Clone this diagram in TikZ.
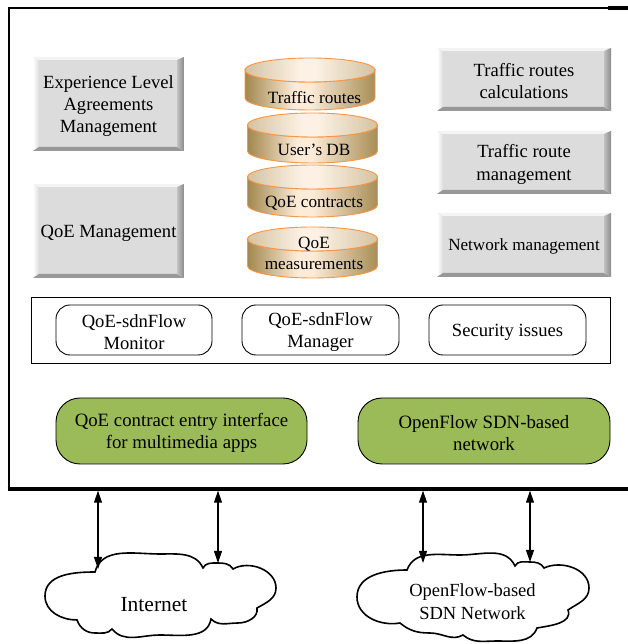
\documentclass[tikz,border=0pt]{standalone}
\usepackage{fontspec}
\setmainfont{Liberation Serif}
\usetikzlibrary{arrows.meta}

\definecolor{boxgray}{HTML}{DCDCDC}
\definecolor{bevlight}{HTML}{F4F4F4}
\definecolor{bevright}{HTML}{8A8A8A}
\definecolor{bevbottom}{HTML}{989898}
\definecolor{appgreen}{HTML}{9BBB59}
\definecolor{cylline}{HTML}{F79646}
\definecolor{cyldark}{HTML}{A2874E}
\definecolor{cyllight}{HTML}{FCEBD7}
\definecolor{cyldarkr}{HTML}{A88D55}
\definecolor{cyltopdark}{HTML}{D4C3A2}
\definecolor{cyltoplight}{HTML}{FCF1E4}

\pgfdeclarehorizontalshading{cylbody}{100bp}{color(0bp)=(cyldark); color(25bp)=(cyldark); color(44bp)=(cyllight); color(50bp)=(cyllight); color(75bp)=(cyldarkr); color(100bp)=(cyldarkr)}
\pgfdeclarehorizontalshading{cyltop}{100bp}{color(0bp)=(cyltopdark); color(25bp)=(cyltopdark); color(46bp)=(cyltoplight); color(52bp)=(cyltoplight); color(75bp)=(cyltopdark); color(100bp)=(cyltopdark)}

% tall struts that set a label a little lower inside its box
\newcommand{\boxstrut}{\rule{0pt}{16.8pt}}
\newcommand{\diskstrut}{\rule{0pt}{15.4pt}}

% database disk: #1 left x, #2 right x, #3 top y, #4 bottom y
\newcommand{\dbdisk}[4]{%
  \pgfmathsetmacro\dkrx{(#2-#1)/2}%
  \pgfmathsetmacro\dkcx{(#2+#1)/2}%
  \pgfmathsetmacro\dkyt{#3-12}%
  \pgfmathsetmacro\dkyb{#4+12}%
  \shadedraw[shading=cylbody, draw=cylline, line width=0.9pt]
    (#1,\dkyt) -- (#1,\dkyb) arc[start angle=180, end angle=360, x radius=\dkrx, y radius=12]
    -- (#2,\dkyt) arc[start angle=0, end angle=-180, x radius=\dkrx, y radius=12] -- cycle;
  \shadedraw[shading=cyltop, draw=cylline, line width=0.9pt]
    (\dkcx,\dkyt) ellipse[x radius=\dkrx, y radius=12];
}

\tikzset{
  bevelbox/.style={fill=boxgray, inner sep=0pt, align=center,
    font=\fontsize{18.6}{22.3}\selectfont,
    path picture={
      \coordinate (bbne) at (path picture bounding box.north east);
      \coordinate (bbsw) at (path picture bounding box.south west);
      \coordinate (bbnw) at (path picture bounding box.north west);
      \coordinate (bbse) at (path picture bounding box.south east);
      \shade[left color=white, right color=boxgray]
        (bbnw) -- ([shift={(6,-3)}]bbnw) -- ([shift={(6,4)}]bbsw) -- (bbsw) -- cycle;
      \fill[bevlight] (bbnw) -- (bbne) -- ([shift={(-7,-3)}]bbne) -- ([shift={(6,-3)}]bbnw) -- cycle;
      \fill[bevbottom] (bbsw) -- (bbse) -- ([shift={(-7,4)}]bbse) -- ([shift={(6,4)}]bbsw) -- cycle;
      \shade[left color=boxgray!88!black, right color=bevright]
        (bbne) -- (bbse) -- ([shift={(-7,4)}]bbse) -- ([shift={(-7,-3)}]bbne) -- cycle;
    }},
  disktext/.style={inner sep=0pt, align=center, font=\fontsize{17.2}{20.7}\selectfont},
  modbox/.style={draw=black, line width=0.9pt, fill=white, rounded corners=14pt,
    inner sep=0pt, align=center, minimum height=50pt, minimum width=157pt,
    font=\fontsize{18.6}{22.3}\selectfont},
  panel/.style={draw=black, line width=0.9pt, fill=white, inner sep=0pt},
  greenbox/.style={draw=black, line width=0.9pt, fill=appgreen, rounded corners=24pt,
    inner sep=0pt, align=center, minimum height=66pt,
    font=\fontsize{18.8}{22.3}\selectfont},
  cloudline/.style={draw=black, line width=1.6pt, fill=white},
  link/.style={{Triangle[length=12pt,width=8pt]}-{Triangle[length=12pt,width=8pt]}, line width=1.1pt},
}

\begin{document}
\begin{tikzpicture}[x=1pt, y=1pt]
\useasboundingbox (0,0) rectangle (627,644);

% main frame
\draw[line width=1.8pt] (9,636) -- (640,636);
\draw[line width=3.6pt] (608,636) -- (640,636);
\draw[line width=2.6pt] (9,155) -- (9,637);
\draw[line width=3.4pt] (7.7,155) -- (640,155);

% management blocks
\node[bevelbox, minimum width=151pt, minimum height=94pt] (ela) at (108.5,540)
  {\boxstrut Experience Level\\Agreements\\Management};
\node[bevelbox, minimum width=151pt, minimum height=94pt] (qoem) at (108.5,413)
  {\boxstrut QoE Management};
\node[bevelbox, minimum width=174pt, minimum height=63pt] (trc) at (524,564.5)
  {\boxstrut Traffic routes\\calculations};
\node[bevelbox, minimum width=174pt, minimum height=63pt] (trm) at (524,481.5)
  {\boxstrut Traffic route\\management};
\node[bevelbox, minimum width=174pt, minimum height=64pt, font=\fontsize{17.1}{20}\selectfont] (nm) at (524,399)
  {\diskstrut Network management};

% databases
\dbdisk{245}{375}{586}{534}
\node[disktext] (dbroutes) at (314.5,548.5) {\diskstrut Traffic routes};
\dbdisk{247.5}{377.5}{531}{481}
\node[disktext] (dbusers) at (314,496) {\diskstrut User’s DB};
\dbdisk{247.5}{377.5}{479}{427}
\node[disktext] (dbcontracts) at (314,442.5) {\diskstrut QoE contracts};
\dbdisk{247.5}{377.5}{417}{366}
\node[disktext] (dbmeas) at (314,392.5) {\diskstrut QoE\\measurements};

% flow modules
\node[panel, minimum width=579pt, minimum height=66pt] (modules) at (320.5,314) {};
\node[modbox, minimum width=156pt] (monitor) at (134,314) {\boxstrut QoE-sdnFlow\\Monitor};
\node[modbox] (manager) at (320.5,314) {\boxstrut QoE-sdnFlow\\Manager};
\node[modbox] (security) at (507.5,314) {\boxstrut Security issues};

% interfaces
\node[greenbox, minimum width=251pt] (entry) at (181.5,213)
  {\boxstrut QoE contract entry interface\\for multimedia apps};
\node[greenbox, minimum width=252pt] (ofnet) at (484,213)
  {\boxstrut OpenFlow SDN-based\\network};

% external clouds
\draw[cloudline] (95,72) to[out=75,in=180] (160,90) to[out=0,in=115] (203,76)
  to[out=65,in=180] (217,81) to[out=0,in=120] (233,75)
  to[out=30,in=90] (276,56) to[out=-90,in=30] (257,36)
  to[out=-80,in=0] (238,21) to[out=180,in=-45] (211,25)
  to[out=-100,in=0] (160,9) to[out=180,in=-50] (112,15)
  to[out=-130,in=0] (95,11) to[out=180,in=-70] (77,24)
  to[out=180,in=-90] (45,48) to[out=90,in=180] (95,72) -- cycle;
\node[font=\fontsize{21.5}{24}\selectfont, inner sep=0pt] (internet) at (154,39) {Internet};

\draw[cloudline] (407,74) to[out=70,in=180] (460,89) to[out=0,in=115] (515,78)
  to[out=65,in=180] (530,82) to[out=0,in=120] (544,76)
  to[out=25,in=90] (589,56) to[out=-90,in=35] (568,34)
  to[out=-70,in=10] (537,16)
  to[out=-110,in=0] (497,3) to[out=180,in=-40] (463,9)
  to[out=-150,in=0] (430,11) to[out=180,in=-40] (400,21)
  to[out=-170,in=-90] (357,47) to[out=90,in=180] (407,74) -- cycle;
\node[font=\fontsize{18.5}{23}\selectfont, align=center, inner sep=0pt] (sdncloud) at (472.5,42.5)
  {OpenFlow-based\\SDN Network};

% links between the platform and the networks
\coordinate (f1) at (98,153.3);
\coordinate (f2) at (218,153.3);
\coordinate (f3) at (423,153.3);
\coordinate (f4) at (530,153.3);
\coordinate (c1) at (98,75);
\coordinate (c2) at (218,81);
\coordinate (c3) at (423,81);
\coordinate (c4) at (530,82);
\draw[link] (f1) -- (c1);
\draw[link] (f2) -- (c2);
\draw[link] (f3) -- (c3);
\draw[link] (f4) -- (c4);
\end{tikzpicture}
\end{document}
